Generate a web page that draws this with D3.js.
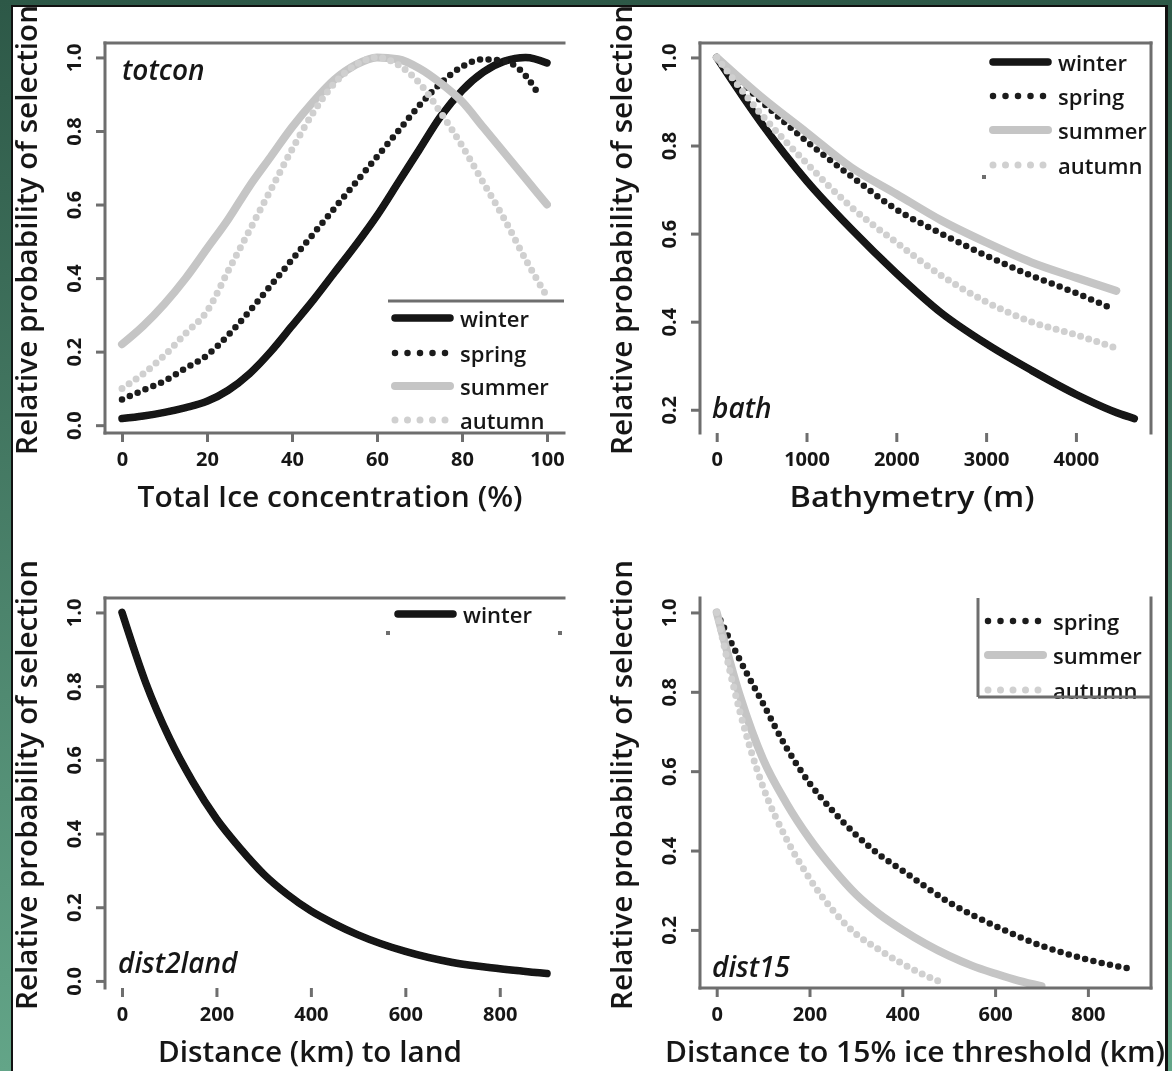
<!DOCTYPE html>
<html>
<head>
<meta charset="utf-8">
<script src="https://cdn.jsdelivr.net/npm/d3@7"></script>
<style>
  html, body { margin: 0; padding: 0; background: #3d7760; }
  svg { display: block; }
  text { font-family: "Open Sans", "Noto Sans", sans-serif; fill: #161616; }
</style>
</head>
<body>
<svg id="chart" width="1172" height="1071"></svg>
<script>
const seasons = ["winter", "spring", "summer", "autumn"];

// totcon (%)
const totconX = [0, 5, 10, 15, 20, 25, 30, 35, 40, 45, 50, 55, 60, 65, 70, 75, 80, 85, 90, 95, 100];
const totconWinter = [0.018, 0.025, 0.035, 0.048, 0.065, 0.095, 0.14, 0.2, 0.27, 0.34, 0.415, 0.49, 0.57, 0.66, 0.75, 0.84, 0.91, 0.96, 0.99, 1.0, 0.985];
const totconSpringX = [0, 5, 10, 15, 20, 25, 30, 35, 40, 45, 50, 55, 60, 65, 70, 75, 80, 85, 90, 95, 98];
const totconSpring = [0.07, 0.095, 0.12, 0.155, 0.19, 0.245, 0.31, 0.38, 0.45, 0.52, 0.59, 0.66, 0.73, 0.8, 0.87, 0.93, 0.975, 0.995, 0.99, 0.95, 0.9];
const totconSummer = [0.22, 0.27, 0.33, 0.4, 0.48, 0.56, 0.65, 0.73, 0.81, 0.88, 0.94, 0.98, 1.0, 0.995, 0.97, 0.93, 0.88, 0.81, 0.74, 0.67, 0.6];
const totconAutumn = [0.1, 0.14, 0.19, 0.25, 0.31, 0.42, 0.53, 0.64, 0.75, 0.85, 0.93, 0.98, 1.0, 0.98, 0.93, 0.85, 0.76, 0.66, 0.56, 0.45, 0.35];
const totconTicks = [0, 20, 40, 60, 80, 100];

// bathymetry (m)
const bathWinterX = [0, 500, 1000, 1500, 2000, 2500, 3000, 3500, 4000, 4500, 4650];
const bathWinter = [1.0, 0.85, 0.72, 0.61, 0.51, 0.42, 0.35, 0.29, 0.235, 0.19, 0.18];
const bathSpringX = [0, 500, 1000, 1500, 2000, 2500, 3000, 3500, 4000, 4400];
const bathSpring = [1.0, 0.9, 0.81, 0.73, 0.655, 0.6, 0.55, 0.505, 0.465, 0.43];
const bathSummerX = [0, 500, 1000, 1500, 2000, 2500, 3000, 3500, 4000, 4450];
const bathSummer = [1.0, 0.91, 0.83, 0.75, 0.69, 0.63, 0.58, 0.535, 0.5, 0.47];
const bathAutumn = [1.0, 0.87, 0.76, 0.66, 0.58, 0.505, 0.445, 0.4, 0.37, 0.34];
const bathTicks = [0, 1000, 2000, 3000, 4000];

// distance to land (km)
const landX = [0, 50, 100, 150, 200, 250, 300, 350, 400, 450, 500, 600, 700, 800, 900];
const landWinter = [1.0, 0.81, 0.66, 0.54, 0.44, 0.36, 0.29, 0.235, 0.19, 0.155, 0.125, 0.08, 0.05, 0.033, 0.02];
const landTicks = [0, 200, 400, 600, 800];

// distance to 15% ice (km)
const d15SpringX = [0, 50, 100, 150, 200, 250, 300, 350, 400, 500, 600, 700, 800, 900];
const d15Spring = [1.0, 0.88, 0.77, 0.66, 0.57, 0.5, 0.44, 0.39, 0.35, 0.27, 0.21, 0.16, 0.125, 0.1];
const d15SummerX = [0, 50, 100, 150, 200, 250, 300, 350, 400, 450, 500, 550, 600, 650, 700];
const d15Summer = [1.0, 0.79, 0.63, 0.52, 0.43, 0.355, 0.29, 0.24, 0.2, 0.165, 0.135, 0.11, 0.09, 0.072, 0.058];
const d15AutumnX = [0, 50, 100, 150, 200, 250, 300, 350, 400, 450, 480];
const d15Autumn = [1.0, 0.75, 0.56, 0.43, 0.33, 0.25, 0.19, 0.15, 0.115, 0.085, 0.07];
const d15Ticks = [0, 200, 400, 600, 800];

const yTicks = [0, 0.2, 0.4, 0.6, 0.8, 1.0];
const yTitle = "Relative probability of selection";

const zip = (xs, ys) => xs.map((x, i) => ({ x, y: ys[i] }));

const panels = [
  {
    tag: "totcon", xTitle: "Total Ice concentration (%)", xTicks: totconTicks,
    box: { l: 105, r: 564, t: 43, b: 433 }, sides: ["left", "top", "bottom"],
    series: [
      { s: "winter", pts: zip(totconX, totconWinter) },
      { s: "spring", pts: zip(totconSpringX, totconSpring) },
      { s: "summer", pts: zip(totconX, totconSummer) },
      { s: "autumn", pts: zip(totconX, totconAutumn) },
    ],
    yLabels: yTicks,
    tagPos: [122, 80], titleW: 385, titleX: 330,
    legend: { x: 392, ys: [318, 353, 386, 420], items: ["winter", "spring", "summer", "autumn"],
      lines: [[388, 301, 564, 301]], dots: [] },
  },
  {
    tag: "bath", xTitle: "Bathymetry (m)", xTicks: bathTicks,
    box: { l: 700, r: 1151, t: 43, b: 433 }, sides: ["left", "top", "right"],
    series: [
      { s: "winter", pts: zip(bathWinterX, bathWinter) },
      { s: "spring", pts: zip(bathSpringX, bathSpring) },
      { s: "summer", pts: zip(bathSummerX, bathSummer) },
      { s: "autumn", pts: zip(bathSummerX, bathAutumn) },
    ],
    yLabels: [0.2, 0.4, 0.6, 0.8, 1.0],
    tagPos: [712, 418], titleW: 245, titleX: 912,
    legend: { x: 990, ys: [62, 96, 130, 165], items: ["winter", "spring", "summer", "autumn"],
      lines: [], dots: [[984, 177]] },
  },
  {
    tag: "dist2land", xTitle: "Distance (km) to land", xTicks: landTicks,
    box: { l: 105, r: 564, t: 598, b: 988 }, sides: ["left", "top"],
    series: [{ s: "winter", pts: zip(landX, landWinter) }],
    yLabels: yTicks,
    tagPos: [118, 973], titleW: 304, titleX: 310,
    legend: { x: 395, ys: [614], items: ["winter"], lines: [], dots: [[388, 633], [560, 633]] },
  },
  {
    tag: "dist15", xTitle: "Distance to 15% ice threshold (km)", xTicks: d15Ticks,
    box: { l: 700, r: 1151, t: 598, b: 988 }, sides: ["left", "bottom", "right"],
    series: [
      { s: "spring", pts: zip(d15SpringX, d15Spring) },
      { s: "summer", pts: zip(d15SummerX, d15Summer) },
      { s: "autumn", pts: zip(d15AutumnX, d15Autumn) },
    ],
    yRange: [0.09, 1.0],
    yLabels: [0.2, 0.4, 0.6, 0.8, 1.0],
    tagPos: [712, 977], titleW: 500, titleX: 915,
    legend: { x: 985, ys: [621, 655, 690], items: ["spring", "summer", "autumn"],
      lines: [[978, 598, 978, 697], [978, 697, 1151, 697]], dots: [] },
  },
];

const styles = {
  winter: { stroke: "#121212", width: 7.5, dash: null },
  spring: { stroke: "#1c1c1c", width: 6.5, dash: "0 8.5" },
  summer: { stroke: "#c5c5c5", width: 8, dash: null },
  autumn: { stroke: "#d0d0d0", width: 7, dash: "0 8.5" },
};
const axisColor = "#6e6e6e";

const svg = d3.select("#chart");
const defs = svg.append("defs");

const grad = defs.append("linearGradient").attr("id", "frame")
  .attr("x1", 0).attr("y1", 0).attr("x2", 0).attr("y2", 1);
grad.append("stop").attr("offset", "0%").attr("stop-color", "#2d5847");
grad.append("stop").attr("offset", "100%").attr("stop-color", "#63a588");

defs.append("filter").attr("id", "soft")
  .append("feGaussianBlur").attr("stdDeviation", 0.55);

// frame around the figure
svg.append("rect").attr("width", 1172).attr("height", 1071).attr("fill", "url(#frame)");
svg.append("rect").attr("x", 11).attr("y", 5).attr("width", 1157).attr("height", 1080)
  .attr("fill", "#111");
svg.append("rect").attr("x", 13).attr("y", 7).attr("width", 1152).attr("height", 1080)
  .attr("fill", "#fff");

const root = svg.append("g").attr("filter", "url(#soft)");

// R-style 4% axis expansion
function expand(lo, hi) {
  const d = (hi - lo) * 0.04;
  return [lo - d, hi + d];
}

function applyStyle(sel, s) {
  const st = styles[s];
  sel.attr("fill", "none")
    .attr("stroke", st.stroke)
    .attr("stroke-width", st.width)
    .attr("stroke-linecap", "round")
    .attr("stroke-linejoin", "round");
  if (st.dash) sel.attr("stroke-dasharray", st.dash);
}

panels.forEach((p, i) => {
  const allPts = p.series.flatMap((d) => d.pts);
  const xr = p.xRange || d3.extent(allPts, (d) => d.x);
  const yr = p.yRange || d3.extent(allPts, (d) => d.y);
  const x = d3.scaleLinear().domain(expand(xr[0], xr[1])).range([p.box.l, p.box.r]);
  const y = d3.scaleLinear().domain(expand(yr[0], yr[1])).range([p.box.b, p.box.t]);
  const g = root.append("g");

  defs.append("clipPath").attr("id", `clip${i}`)
    .append("rect").attr("x", p.box.l).attr("y", p.box.t)
    .attr("width", p.box.r - p.box.l).attr("height", p.box.b - p.box.t);

  const line = d3.line().x((d) => x(d.x)).y((d) => y(d.y)).curve(d3.curveMonotoneX);
  const plot = g.append("g").attr("clip-path", `url(#clip${i})`);
  p.series.forEach((d) => {
    plot.append("path").attr("d", line(d.pts)).call(applyStyle, d.s);
  });

  // axes
  const xAxis = g.append("g").attr("transform", `translate(0,${p.box.b})`)
    .call(d3.axisBottom(x).tickValues(p.xTicks).tickSize(9).tickPadding(10).tickFormat(d3.format("d")));
  const yAxis = g.append("g").attr("transform", `translate(${p.box.l},0)`)
    .call(d3.axisLeft(y).tickValues(p.yLabels).tickSize(9).tickPadding(0).tickFormat(d3.format(".1f")));
  [xAxis, yAxis].forEach((a) => {
    a.select(".domain").remove();
    a.selectAll(".tick line").attr("stroke", axisColor).attr("stroke-width", 3);
    a.selectAll("text").attr("font-size", 20).attr("font-weight", 700).attr("fill", "#222");
  });
  yAxis.selectAll(".tick text")
    .attr("x", 0).attr("dy", 0)
    .attr("text-anchor", "middle")
    .attr("transform", "translate(-32,0) rotate(-90)")
    .attr("dominant-baseline", "central");

  // visible box sides
  const sideLines = {
    left: [p.box.l, p.box.t, p.box.l, p.box.b],
    right: [p.box.r, p.box.t, p.box.r, p.box.b],
    top: [p.box.l, p.box.t, p.box.r, p.box.t],
    bottom: [p.box.l, p.box.b, p.box.r, p.box.b],
  };
  p.sides.forEach((s) => {
    const [x1, y1, x2, y2] = sideLines[s];
    g.append("line").attr("x1", x1).attr("y1", y1).attr("x2", x2).attr("y2", y2)
      .attr("stroke", axisColor).attr("stroke-width", 3).attr("stroke-linecap", "square");
  });

  // titles
  g.append("text").attr("x", p.titleX).attr("y", p.box.b + 74)
    .attr("text-anchor", "middle").attr("font-size", 28).attr("font-weight", 600)
    .attr("textLength", p.titleW).attr("lengthAdjust", "spacingAndGlyphs")
    .text(p.xTitle);
  const yc = (p.box.t + p.box.b) / 2 - 8;
  g.append("text")
    .attr("transform", `translate(${p.box.l - 68},${yc}) rotate(-90)`)
    .attr("text-anchor", "middle").attr("font-size", 28).attr("font-weight", 600)
    .attr("textLength", 450).attr("lengthAdjust", "spacingAndGlyphs")
    .text(yTitle);
  g.append("text").attr("x", p.tagPos[0]).attr("y", p.tagPos[1])
    .attr("font-size", 28).attr("font-style", "italic").attr("font-weight", 600)
    .text(p.tag);

  // legend
  const lg = g.append("g");
  p.legend.items.forEach((s, k) => {
    const ly = p.legend.ys[k];
    lg.append("path").attr("d", `M${p.legend.x + 3},${ly}H${p.legend.x + 58}`).call(applyStyle, s)
      .attr("stroke-dasharray", styles[s].dash ? "0 12.5" : null);
    lg.append("text").attr("x", p.legend.x + 68).attr("y", ly)
      .attr("dominant-baseline", "central").attr("font-size", 22).attr("font-weight", 600)
      .text(s);
  });
  p.legend.lines.forEach(([x1, y1, x2, y2]) => {
    lg.append("line").attr("x1", x1).attr("y1", y1).attr("x2", x2).attr("y2", y2)
      .attr("stroke", axisColor).attr("stroke-width", 3);
  });
  p.legend.dots.forEach(([cx, cy]) => {
    lg.append("rect").attr("x", cx - 2).attr("y", cy - 2).attr("width", 4).attr("height", 4)
      .attr("fill", axisColor);
  });
});
</script>
</body>
</html>
